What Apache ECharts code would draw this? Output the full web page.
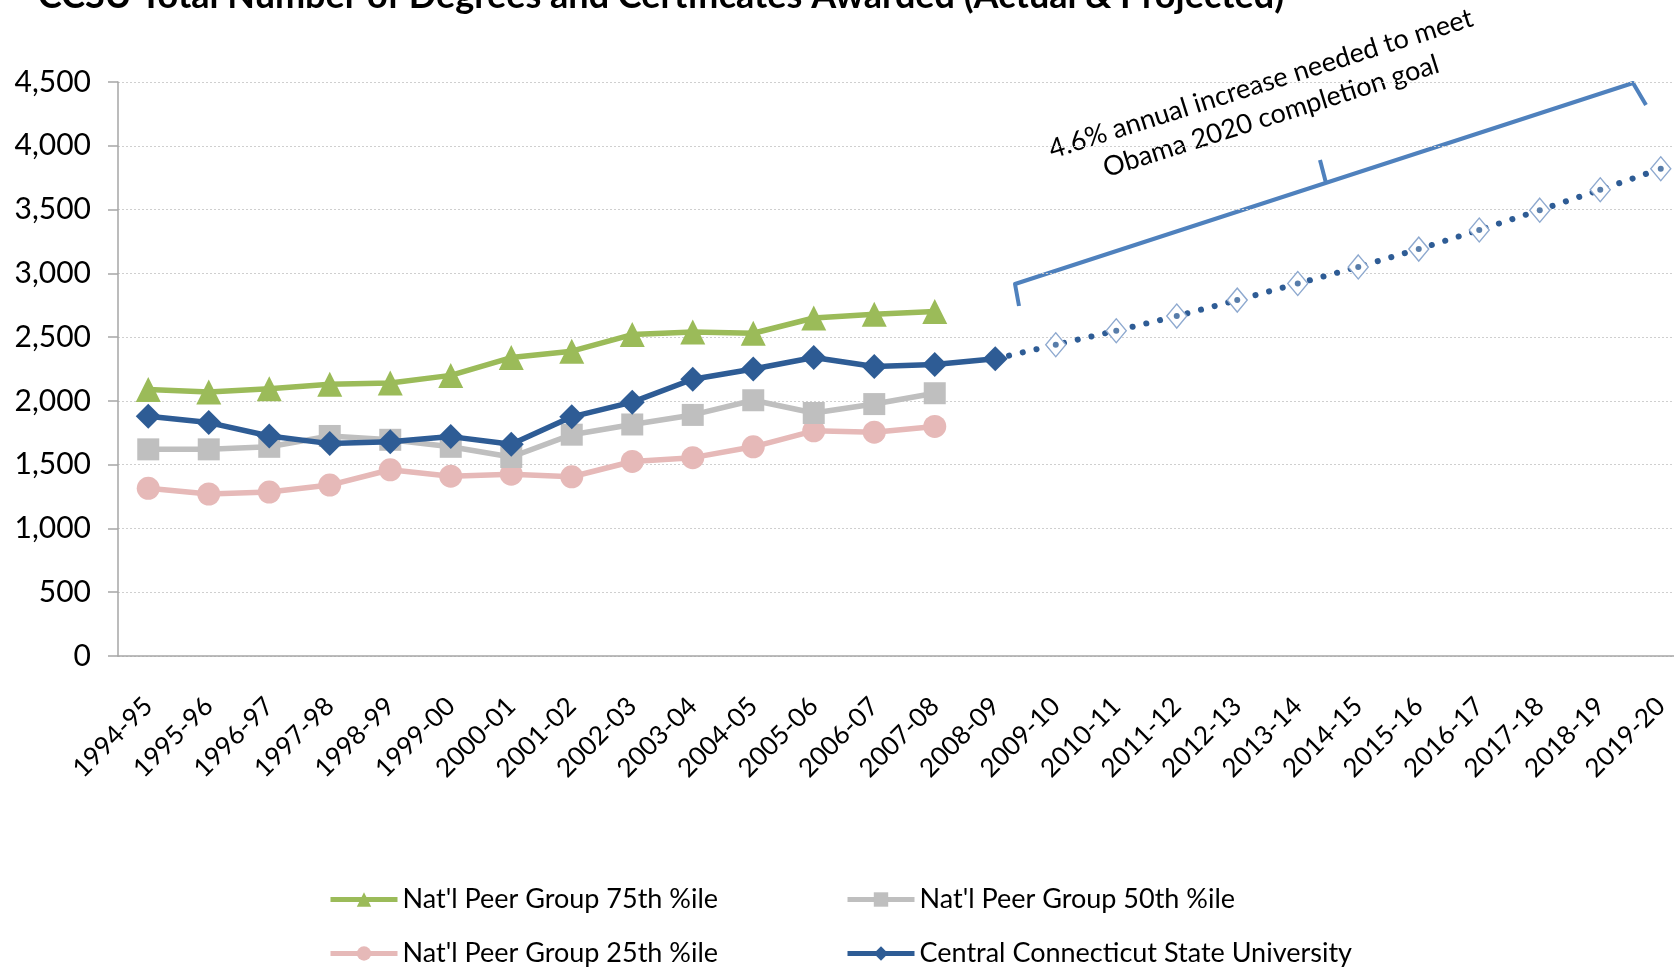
<!DOCTYPE html>
<html>
<head>
<meta charset="utf-8">
<script src="https://cdn.jsdelivr.net/npm/echarts@6/dist/echarts.min.js"></script>
<style>
  html, body { margin: 0; padding: 0; background: #fff; }
  #main { width: 1674px; height: 968px; }
</style>
</head>
<body>
<div id="main"></div>
<script>
let myChart = echarts.init(document.getElementById('main'));

// school years on the x axis
const categories = [
    '1994-95', '1995-96', '1996-97', '1997-98', '1998-99', '1999-00', '2000-01',
    '2001-02', '2002-03', '2003-04', '2004-05', '2005-06', '2006-07', '2007-08',
    '2008-09', '2009-10', '2010-11', '2011-12', '2012-13', '2013-14', '2014-15',
    '2015-16', '2016-17', '2017-18', '2018-19', '2019-20'
];

// peer groups (1994-95 .. 2007-08)
const peer75 = [2090, 2070, 2095, 2130, 2140, 2200, 2340, 2390, 2520, 2540, 2530, 2650, 2680, 2700];
const peer50 = [1620, 1620, 1640, 1725, 1695, 1640, 1560, 1735, 1815, 1890, 2005, 1905, 1975, 2060];
const peer25 = [1315, 1270, 1285, 1340, 1460, 1410, 1425, 1405, 1525, 1555, 1640, 1765, 1755, 1800];

// CCSU actual (1994-95 .. 2008-09) and projected (2009-10 .. 2019-20)
const ccsuActual = [1880, 1830, 1725, 1665, 1680, 1720, 1660, 1875, 1990, 2170, 2250, 2340, 2270, 2285, 2330];
const ccsuProjected = [2440, 2550, 2665, 2790, 2920, 3050, 3190, 3340, 3495, 3655, 3820];

const yTicks = [0, 500, 1000, 1500, 2000, 2500, 3000, 3500, 4000, 4500];

const names = [
    "Nat'l Peer Group 75th %ile",
    "Nat'l Peer Group 50th %ile",
    "Nat'l Peer Group 25th %ile",
    'Central Connecticut State University'
];

const FONT = 'Lato';
const BLUE = '#2e5c95';

// projection starts at last actual point (no marker there)
let gap = new Array(ccsuActual.length - 1).fill(null);
let projLine = gap.concat([{ value: ccsuActual[ccsuActual.length - 1], symbol: 'none' }], ccsuProjected);
let projDots = gap.concat([null], ccsuProjected);

function legendAt(name, left, top) {
    return {
        data: [name],
        left: left,
        top: top,
        padding: 0,
        orient: 'horizontal',
        itemWidth: 67,
        itemHeight: 18,
        itemGap: 5,
        lineStyle: { width: 5 },
        textStyle: { fontFamily: FONT, fontSize: 27, color: '#000' },
        selectedMode: false
    };
}

let option = {
    backgroundColor: '#fff',
    animation: false,
    title: {
        text: 'CCSU Total Number of Degrees and Certificates Awarded (Actual & Projected)',
        left: 38,
        top: -22,
        padding: 0,
        textStyle: { fontFamily: FONT, fontWeight: 'bold', fontSize: 36, color: '#000' }
    },
    legend: [
        legendAt(names[0], 328, 886),
        legendAt(names[1], 845, 886),
        legendAt(names[2], 328, 940),
        legendAt(names[3], 845, 940)
    ],
    grid: {
        left: 118,
        top: 82,
        width: 1573,
        height: 574,
        outerBoundsMode: 'none'
    },
    xAxis: {
        type: 'category',
        data: categories,
        boundaryGap: true,
        axisLine: { lineStyle: { color: '#a6a6a6', width: 1.5 } },
        axisTick: { show: false },
        axisLabel: {
            rotate: 45,
            margin: 46,
            interval: 0,
            fontFamily: FONT,
            fontSize: 26,
            color: '#000'
        }
    },
    yAxis: {
        type: 'value',
        min: yTicks[0],
        max: yTicks[yTicks.length - 1],
        interval: 500,
        axisLine: { show: true, lineStyle: { color: '#a6a6a6', width: 1.5 } },
        axisTick: { show: true, length: 10, lineStyle: { color: '#a6a6a6', width: 1.5 } },
        axisLabel: {
            margin: 27,
            fontFamily: FONT,
            fontSize: 30,
            color: '#000',
            formatter: v => v.toLocaleString('en-US')
        },
        splitLine: { lineStyle: { color: '#cfcfcf', type: [2, 2], width: 1 } }
    },
    series: [
        {
            name: names[2], type: 'line', data: peer25, z: 2,
            symbol: 'circle', symbolSize: 23,
            lineStyle: { color: '#e6b9b8', width: 5.5 },
            itemStyle: { color: '#e6b9b8' }
        },
        {
            name: names[1], type: 'line', data: peer50, z: 3,
            symbol: 'rect', symbolSize: 22,
            lineStyle: { color: '#bfbfbf', width: 5.5 },
            itemStyle: { color: '#bfbfbf' }
        },
        {
            name: names[0], type: 'line', data: peer75, z: 4,
            symbol: 'triangle', symbolSize: 25,
            lineStyle: { color: '#9bbb59', width: 5.5 },
            itemStyle: { color: '#9bbb59' }
        },
        {
            name: 'projected', type: 'line', data: projLine, z: 5,
            symbol: 'diamond', symbolSize: [20, 24],
            lineStyle: { color: BLUE, width: 6, type: [0.1, 14], cap: 'round' },
            itemStyle: { color: '#fff', borderColor: '#8ea9cf', borderWidth: 1.4 }
        },
        {
            name: 'projected dots', type: 'scatter', data: projDots, z: 6,
            symbol: 'circle', symbolSize: 6,
            itemStyle: { color: BLUE }
        },
        {
            name: names[3], type: 'line', data: ccsuActual, z: 7,
            symbol: 'diamond', symbolSize: 25,
            lineStyle: { color: BLUE, width: 5.5 },
            itemStyle: { color: BLUE }
        }
    ],
    graphic: [
        {
            type: 'group',
            x: 1266,
            y: 100,
            rotation: 17.5 * Math.PI / 180,
            children: [
                {
                    type: 'rect',
                    shape: { x: -255, y: -40, width: 510, height: 80 },
                    style: { fill: '#fff' }
                },
                {
                    type: 'text',
                    x: 0,
                    y: 0,
                    style: {
                        text: '4.6% annual increase needed to meet\nObama 2020 completion goal',
                        fontFamily: FONT,
                        fontSize: 27,
                        lineHeight: 34,
                        fill: '#000',
                        align: 'center',
                        verticalAlign: 'middle'
                    }
                }
            ]
        },
        {
            type: 'polyline',
            shape: { points: [[1019, 306], [1015, 284], [1633, 83], [1646, 105]] },
            style: { stroke: '#4f81bd', lineWidth: 4, fill: null, lineJoin: 'round' }
        },
        {
            type: 'line',
            shape: { x1: 1326, y1: 183, x2: 1320, y2: 160 },
            style: { stroke: '#4f81bd', lineWidth: 4 }
        }
    ]
};

myChart.setOption(option);
</script>
</body>
</html>
